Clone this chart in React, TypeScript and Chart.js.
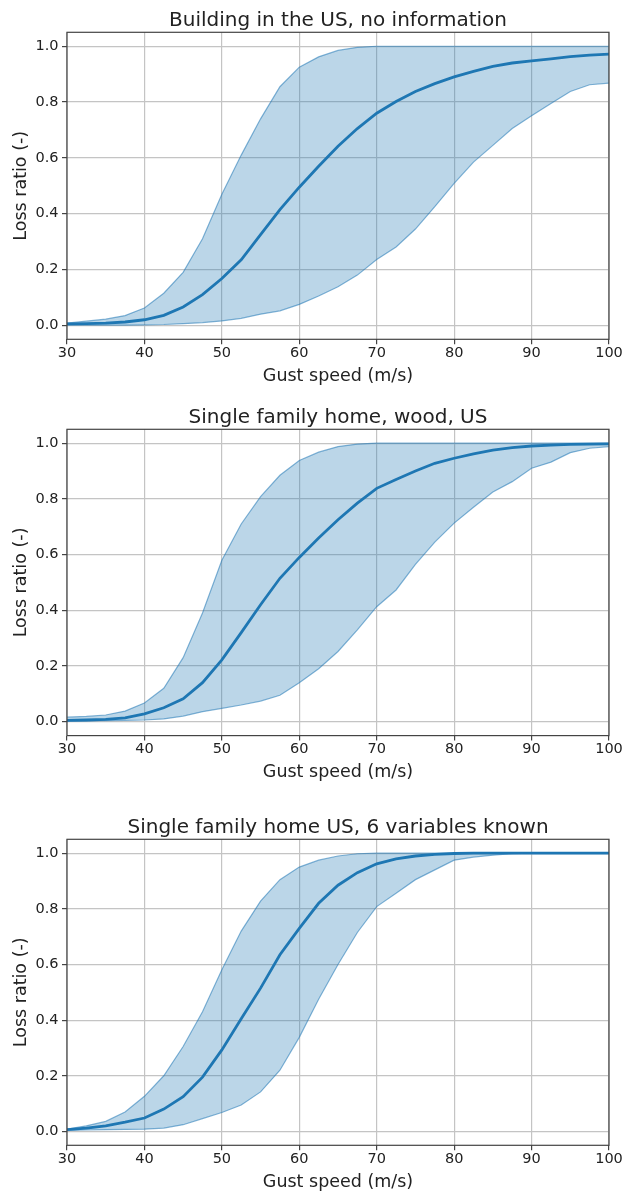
import React, { useEffect, useRef } from "react";
import { Chart, registerables } from "chart.js";
Chart.register(...registerables);

const GUST_SPEED = [30, 32.5, 35, 37.5, 40, 42.5, 45, 47.5, 50, 52.5, 55, 57.5, 60, 62.5, 65, 67.5, 70, 72.5, 75, 77.5, 80, 82.5, 85, 87.5, 90, 92.5, 95, 97.5, 100];

const P1_UPPER = [0.008, 0.015, 0.022, 0.035, 0.062, 0.115, 0.19, 0.31, 0.47, 0.61, 0.74, 0.855, 0.925, 0.962, 0.985, 0.996, 1.0, 1.0, 1.0, 1.0, 1.0, 1.0, 1.0, 1.0, 1.0, 1.0, 1.0, 1.0, 1.0];
const P1_MEDIAN = [0.005, 0.006, 0.008, 0.012, 0.02, 0.036, 0.066, 0.11, 0.168, 0.235, 0.325, 0.415, 0.495, 0.57, 0.642, 0.705, 0.76, 0.802, 0.838, 0.866, 0.89, 0.91, 0.928, 0.94, 0.948, 0.955, 0.963, 0.968, 0.972];
const P1_LOWER = [0.001, 0.001, 0.001, 0.001, 0.002, 0.003, 0.006, 0.01, 0.016, 0.025, 0.04, 0.052, 0.075, 0.105, 0.138, 0.18, 0.236, 0.281, 0.345, 0.425, 0.509, 0.585, 0.645, 0.705, 0.751, 0.795, 0.838, 0.862, 0.868];

const P2_UPPER = [0.016, 0.019, 0.024, 0.038, 0.067, 0.12, 0.23, 0.39, 0.58, 0.71, 0.808, 0.885, 0.938, 0.968, 0.988, 0.997, 1.0, 1.0, 1.0, 1.0, 1.0, 1.0, 1.0, 1.0, 1.0, 1.0, 1.0, 1.0, 1.0];
const P2_MEDIAN = [0.005, 0.006, 0.008, 0.014, 0.028, 0.05, 0.082, 0.14, 0.222, 0.32, 0.42, 0.515, 0.59, 0.66, 0.725, 0.785, 0.838, 0.87, 0.9, 0.928, 0.946, 0.962, 0.975, 0.984, 0.99, 0.993, 0.996, 0.997, 0.998];
const P2_LOWER = [0.002, 0.003, 0.004, 0.005, 0.006, 0.01, 0.02, 0.036, 0.048, 0.06, 0.074, 0.095, 0.14, 0.19, 0.252, 0.33, 0.413, 0.473, 0.565, 0.645, 0.713, 0.77, 0.825, 0.862, 0.91, 0.932, 0.966, 0.982, 0.988];

const P3_UPPER = [0.008, 0.02, 0.036, 0.07, 0.126, 0.2, 0.305, 0.43, 0.581, 0.72, 0.828, 0.905, 0.95, 0.975, 0.99, 0.998, 1.0, 1.0, 1.0, 1.0, 1.0, 1.0, 1.0, 1.0, 1.0, 1.0, 1.0, 1.0, 1.0];
const P3_MEDIAN = [0.006, 0.012, 0.02, 0.033, 0.048, 0.08, 0.125, 0.195, 0.293, 0.405, 0.515, 0.635, 0.73, 0.82, 0.885, 0.93, 0.962, 0.98, 0.99, 0.996, 0.999, 1.0, 1.0, 1.0, 1.0, 1.0, 1.0, 1.0, 1.0];
const P3_LOWER = [0.004, 0.005, 0.006, 0.007, 0.008, 0.012, 0.024, 0.046, 0.068, 0.095, 0.142, 0.22, 0.338, 0.475, 0.6, 0.715, 0.808, 0.856, 0.905, 0.94, 0.975, 0.986, 0.993, 0.998, 1.0, 1.0, 1.0, 1.0, 1.0];

const TITLES = [
  "Building in the US, no information",
  "Single family home, wood, US",
  "Single family home US, 6 variables known",
];
const X_LABEL = "Gust speed (m/s)";
const Y_LABEL = "Loss ratio (-)";
const X_TICKS = [30, 40, 50, 60, 70, 80, 90, 100];
const Y_TICKS = [0.0, 0.2, 0.4, 0.6, 0.8, 1.0];

const FONT = '"DejaVu Sans", "Liberation Sans", sans-serif';
const BLUE = "#1f77b4";
const BAND = "rgba(31,119,180,0.3)";
const EDGE = "rgba(31,119,180,0.55)";
const TEXT = "#222222";

const PANELS = [
  { title: TITLES[0], upper: P1_UPPER, median: P1_MEDIAN, lower: P1_LOWER, top: 0, height: 397, padTop: 32.3, xAxisH: 57.7 },
  { title: TITLES[1], upper: P2_UPPER, median: P2_MEDIAN, lower: P2_LOWER, top: 397, height: 410, padTop: 32.3, xAxisH: 71.4 },
  { title: TITLES[2], upper: P3_UPPER, median: P3_MEDIAN, lower: P3_LOWER, top: 807, height: 384, padTop: 32.3, xAxisH: 45.7 },
];

const panelText = {
  id: "panelText",
  afterDraw(chart: any, _args: any, opts: any) {
    const { ctx, chartArea: a } = chart;
    ctx.save();
    ctx.strokeStyle = "#444";
    ctx.lineWidth = 1.2;
    ctx.strokeRect(a.left, a.top, a.right - a.left, a.bottom - a.top);
    ctx.fillStyle = TEXT;
    ctx.textAlign = "center";
    ctx.textBaseline = "alphabetic";
    ctx.font = `20px ${FONT}`;
    ctx.fillText(opts.title, (a.left + a.right) / 2, a.top - 6);
    ctx.font = `17.5px ${FONT}`;
    ctx.textBaseline = "middle";
    ctx.fillText(opts.xLabel, (a.left + a.right) / 2, a.bottom + 37);
    ctx.translate(21.5, (a.top + a.bottom) / 2);
    ctx.rotate(-Math.PI / 2);
    ctx.fillText(opts.yLabel, 0, 0);
    ctx.restore();
  },
};

function Panel({ p }: { p: any }) {
  const ref = useRef<HTMLCanvasElement | null>(null);
  useEffect(() => {
    if (!ref.current) return;
    const pts = (arr: number[]) => GUST_SPEED.map((x, i) => ({ x, y: arr[i] }));
    const chart = new Chart(ref.current, {
      type: "line",
      data: {
        datasets: [
          { data: pts(p.lower), borderColor: EDGE, borderWidth: 1.2, pointRadius: 0, fill: false, tension: 0 },
          { data: pts(p.upper), borderColor: EDGE, borderWidth: 1.2, pointRadius: 0, fill: "-1", backgroundColor: BAND, tension: 0 },
          { data: pts(p.median), borderColor: BLUE, borderWidth: 2.8, pointRadius: 0, fill: false, tension: 0 },
        ],
      },
      options: {
        animation: false,
        responsive: false,
        devicePixelRatio: 1,
        layout: { padding: { top: p.padTop, left: 0, right: 15, bottom: 0 } },
        plugins: {
          legend: { display: false },
          tooltip: { enabled: false },
          panelText: { title: p.title, xLabel: X_LABEL, yLabel: Y_LABEL },
        } as any,
        scales: {
          x: {
            type: "linear",
            min: 30,
            max: 100,
            afterBuildTicks: (s: any) => { s.ticks = X_TICKS.map((v) => ({ value: v })); },
            afterFit: (s: any) => { s.height = p.xAxisH; },
            grid: { color: "#c4c4c4", lineWidth: 1.2, drawTicks: true, tickLength: 5, tickColor: "#444", tickWidth: 1.2 },
            border: { display: false },
            ticks: { font: { family: FONT, size: 14.5 }, color: TEXT, padding: 0, maxRotation: 0, autoSkip: false },
          },
          y: {
            type: "linear",
            min: -0.05,
            max: 1.05,
            afterBuildTicks: (s: any) => { s.ticks = Y_TICKS.map((v) => ({ value: v })); },
            afterFit: (s: any) => { s.width = 67; },
            grid: { color: "#c4c4c4", lineWidth: 1.2, drawTicks: true, tickLength: 5, tickColor: "#444", tickWidth: 1.2 },
            border: { display: false },
            ticks: { font: { family: FONT, size: 14.5 }, color: TEXT, padding: 3.5, callback: (v: any) => Number(v).toFixed(1) },
          },
        },
      },
      plugins: [panelText],
    } as any);
    return () => chart.destroy();
  }, [p]);
  return (
    <canvas
      ref={ref}
      width={624}
      height={p.height}
      style={{ position: "absolute", left: 0, top: p.top, width: 624, height: p.height }}
    />
  );
}

export default function App() {
  return (
    <div style={{ position: "absolute", left: 0, top: 0, width: 624, height: 1191, background: "#fff" }}>
      {PANELS.map((p, i) => (
        <Panel key={i} p={p} />
      ))}
    </div>
  );
}
